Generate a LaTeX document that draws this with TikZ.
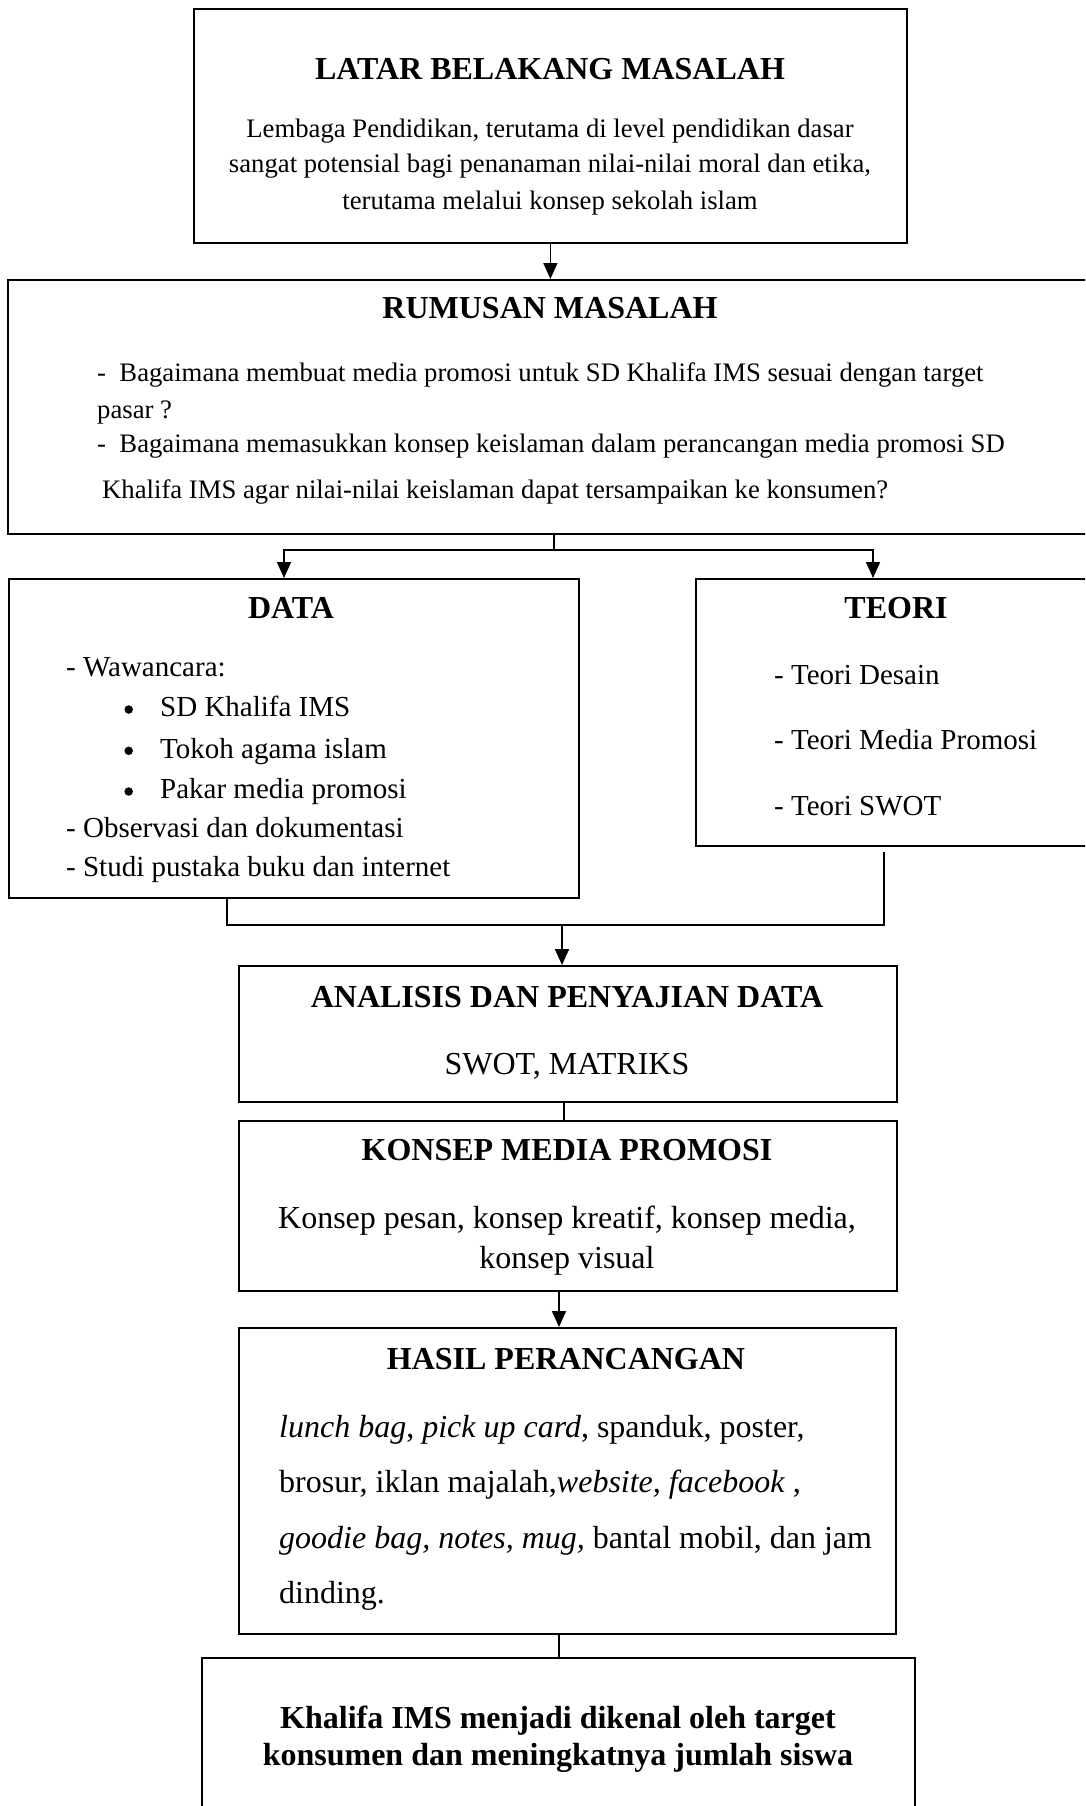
\documentclass[tikz,border=0pt]{standalone}
\usepackage{fontspec}
\setmainfont{Liberation Serif}
\usetikzlibrary{arrows.meta}
\tikzset{
  box/.style={draw, line width=1.8pt, anchor=north west, inner sep=0pt},
  ttl/.style={font=\fontsize{32}{38}\selectfont\bfseries, anchor=base, inner sep=0pt},
  smalltxt/.style={font=\fontsize{26.7}{32}\selectfont, inner sep=0pt},
  midtxt/.style={font=\fontsize{29}{35}\selectfont, inner sep=0pt, anchor=base west},
  bigtxt/.style={font=\fontsize{32}{38}\selectfont, inner sep=0pt},
  boldtxt/.style={font=\fontsize{32}{38}\selectfont\bfseries, inner sep=0pt, anchor=base},
  dot/.style={circle, fill=black, inner sep=0pt, minimum size=8.5pt},
  conn/.style={line width=1.8pt},
  arr/.style={conn, -{Triangle[length=16pt,width=14pt]}}
}
\begin{document}
\begin{tikzpicture}[x=1pt,y=-1pt]
\useasboundingbox (0,0) rectangle (1085,1806);
\clip (0,0) rectangle (1085,1806);
\fill[white] (0,0) rectangle (1085,1806);

% boxes
\node[box, minimum width=713pt, minimum height=234pt] (lbm) at (193,8) {};
\node[box, minimum width=1100pt, minimum height=254pt] (rum) at (7,279) {};
\node[box, minimum width=570pt, minimum height=319pt] (data) at (8,578) {};
\node[box, minimum width=400pt, minimum height=267pt] (teori) at (695,578) {};
\node[box, minimum width=658pt, minimum height=136pt] (ana) at (238,965) {};
\node[box, minimum width=658pt, minimum height=170pt] (kon) at (238,1120) {};
\node[box, minimum width=657pt, minimum height=306pt] (has) at (238,1327) {};
\node[box, minimum width=713pt, minimum height=300pt] (fin) at (201,1657) {};

% LATAR BELAKANG
\node[ttl] (lbmT) at (550,80) {LATAR BELAKANG MASALAH};
\node[smalltxt, anchor=base] (lbm1) at (550,138) {Lembaga Pendidikan, terutama di level pendidikan dasar};
\node[smalltxt, anchor=base] (lbm2) at (550,173) {sangat potensial bagi penanaman nilai-nilai moral dan etika,};
\node[smalltxt, anchor=base] (lbm3) at (550,209) {terutama melalui konsep sekolah islam};

% RUMUSAN
\node[ttl] (rumT) at (550,318.5) {RUMUSAN MASALAH};
\node[smalltxt, anchor=base west] (rum1) at (97,381.5) {-\ \ Bagaimana membuat media promosi untuk SD Khalifa IMS sesuai dengan target};
\node[smalltxt, anchor=base west] (rum2) at (97,418) {pasar ?};
\node[smalltxt, anchor=base west] (rum3) at (97,452.5) {-\ \ Bagaimana memasukkan konsep keislaman dalam perancangan media promosi SD};
\node[smalltxt, anchor=base west] (rum4) at (102,498) {Khalifa IMS agar nilai-nilai keislaman dapat tersampaikan ke konsumen?};

% DATA
\node[ttl] (dataT) at (291,618.5) {DATA};
\node[midtxt] (d1) at (66,676.5) {- Wawancara:};
\node[dot] (b1) at (128.7,709.5) {};
\node[midtxt] (d2) at (160,716.5) {SD Khalifa IMS};
\node[dot] (b2) at (128.7,750.8) {};
\node[midtxt] (d3) at (160,758) {Tokoh agama islam};
\node[dot] (b3) at (128.7,791.5) {};
\node[midtxt] (d4) at (160,798) {Pakar media promosi};
\node[midtxt] (d5) at (66,837.5) {- Observasi dan dokumentasi};
\node[midtxt] (d6) at (66,876.5) {- Studi pustaka buku dan internet};

% TEORI
\node[ttl] (teoriT) at (896,618.5) {TEORI};
\node[midtxt] (t1) at (774,684) {- Teori Desain};
\node[midtxt] (t2) at (774,749.5) {- Teori Media Promosi};
\node[midtxt] (t3) at (774,815) {- Teori SWOT};

% ANALISIS
\node[ttl] (anaT) at (567,1007) {ANALISIS DAN PENYAJIAN DATA};
\node[bigtxt, anchor=base] (ana1) at (567,1074.5) {SWOT, MATRIKS};

% KONSEP
\node[ttl] (konT) at (567,1160.5) {KONSEP MEDIA PROMOSI};
\node[bigtxt, anchor=base] (kon1) at (567,1228) {Konsep pesan, konsep kreatif, konsep media,};
\node[bigtxt, anchor=base] (kon2) at (567,1268) {konsep visual};

% HASIL
\node[ttl] (hasT) at (566,1369.5) {HASIL PERANCANGAN};
\node[bigtxt, anchor=base west] (h1) at (279,1437) {\textit{lunch bag}, \textit{pick up card}, spanduk, poster,};
\node[bigtxt, anchor=base west] (h2) at (279,1492.5) {brosur, iklan majalah,\textit{website, facebook} ,};
\node[bigtxt, anchor=base west] (h3) at (279,1548) {\textit{goodie bag, notes, mug,} bantal mobil, dan jam};
\node[bigtxt, anchor=base west] (h4) at (279,1603) {dinding.};

% FINAL
\node[boldtxt] (f1) at (558,1728) {Khalifa IMS menjadi dikenal oleh target};
\node[boldtxt] (f2) at (558,1765) {konsumen dan meningkatnya jumlah siswa};

% connectors
\draw[arr] (lbm.south) -- (lbm.south |- rum.north);

\coordinate (split) at (554,550);
\coordinate (dIn) at (284,0);
\coordinate (tIn) at (873,0);
\draw[conn] (split |- rum.south) -- (split);
\draw[arr] (split) -| (dIn |- data.north);
\draw[arr] (split) -| (tIn |- teori.north);

\coordinate (join) at (562,925);
\coordinate (dOut) at (227,0);
\coordinate (tOut) at (884,852);
\draw[conn] (dOut |- data.south) |- (join);
\draw[conn] (tOut) |- (join);
\draw[arr] (join) -- (join |- ana.north);

\coordinate (kx) at (564,0);
\draw[conn] (kx |- ana.south) -- (kx |- kon.north);

\coordinate (hx) at (559,0);
\draw[arr] (hx |- kon.south) -- (hx |- has.north);
\draw[conn] (hx |- has.south) -- (hx |- fin.north);
\end{tikzpicture}
\end{document}
